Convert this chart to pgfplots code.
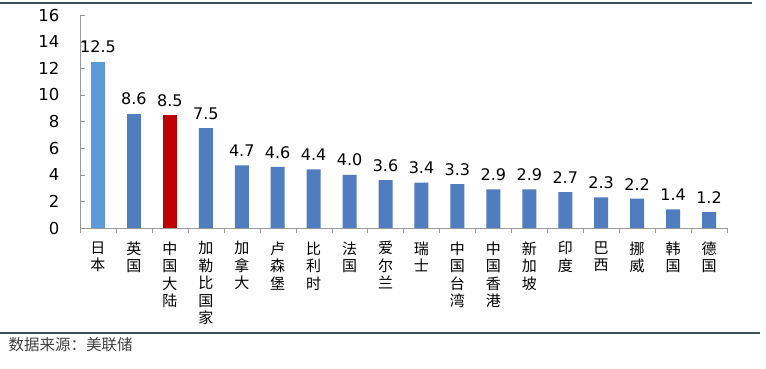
\documentclass[border=0pt]{standalone}
\usepackage{pgfplots}
\pgfplotsset{compat=1.18}
\usepackage{fontspec}
\setmainfont{DejaVu Sans}
\newfontfamily\cjk{Noto Sans CJK SC}
\definecolor{barblue}{HTML}{4F7DC0}
\definecolor{barlight}{HTML}{5B9BD8}
\definecolor{barred}{HTML}{C00000}
\definecolor{rulec}{HTML}{3C5258}
\begin{document}
\begin{tikzpicture}[x=1pt,y=1pt]
\useasboundingbox (0,0) rectangle (766,368);
\draw[rulec, line width=1.2pt] (0,365) -- (752,365);
\draw[rulec, line width=1.2pt] (0,35) -- (760,35);
\node[anchor=west, text=black!75, font=\cjk\fontsize{15.5}{17}\selectfont] at (5,23) {数据来源：美联储};
\begin{axis}[
  at={(80pt,140pt)}, anchor=south west,
  scale only axis, width=647pt, height=213pt,
  xmin=-0.5, xmax=17.5, ymin=0, ymax=16,
  axis lines=left, axis line style={-, draw=gray!80},
  ytick={0,2,...,16},
  ytick style={draw=gray!80}, tick align=inside,
  major tick length=5pt,
  xtick={-0.5,0.5,...,17.5},
  xticklabels={},
  extra x ticks={0,...,17},
  extra x tick style={major tick length=0pt, xticklabel style={align=center, anchor=north, yshift=-10pt, font=\cjk\fontsize{15}{17.5}\selectfont}},
  extra x tick labels={{日\\本},{英\\国},{中\\国\\大\\陆},{加\\勒\\比\\国\\家},{加\\拿\\大},{卢\\森\\堡},{比\\利\\时},{法\\国},{爱\\尔\\兰},{瑞\\士},{中\\国\\台\\湾},{中\\国\\香\\港},{新\\加\\坡},{印\\度},{巴\\西},{挪\\威},{韩\\国},{德\\国}},
  xtick style={draw=gray!80},
  yticklabel style={font=\fontsize{16.5}{18}\selectfont, xshift=-17pt},
  /pgf/number format/assume math mode=true,
  ybar, bar width=14pt, bar shift=0pt,
  nodes near coords, nodes near coords style={font=\fontsize{16}{18}\selectfont, text=black, /pgf/number format/fixed, /pgf/number format/fixed zerofill, /pgf/number format/precision=1, yshift=5pt},
  clip=false,
]
\addplot[fill=barlight, draw=none] coordinates {(0,12.5)};
\addplot[fill=barblue, draw=none] coordinates {(1,8.6)};
\addplot[fill=barred, draw=none] coordinates {(2,8.5)};
\addplot[fill=barblue, draw=none] coordinates {(3,7.5) (4,4.7) (5,4.6) (6,4.4) (7,4.0) (8,3.6) (9,3.4) (10,3.3) (11,2.9) (12,2.9) (13,2.7) (14,2.3) (15,2.2) (16,1.4) (17,1.2)};
\end{axis}
\end{tikzpicture}
\end{document}
